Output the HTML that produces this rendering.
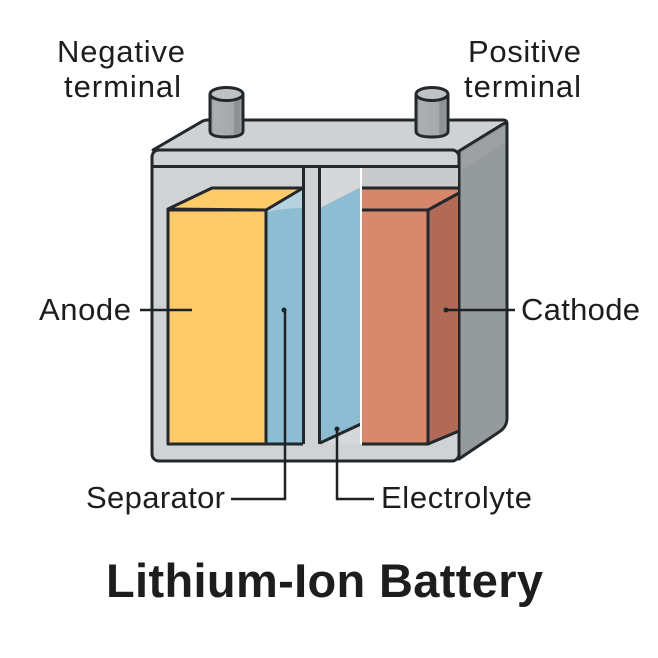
<!DOCTYPE html>
<html><head><meta charset="utf-8"><style>html,body{margin:0;padding:0;background:#fff}svg{display:block}text{font-family:"Liberation Sans",sans-serif;fill:#1b1d1f}</style></head>
<body>
<svg width="658" height="658" viewBox="0 0 658 658" xmlns="http://www.w3.org/2000/svg">
<defs>
<linearGradient id="p" x1="0" x2="1" y1="0" y2="0">
<stop offset="0" stop-color="#8f9193"/><stop offset=".12" stop-color="#acaeb0"/><stop offset=".72" stop-color="#a6a8aa"/><stop offset=".74" stop-color="#8d8f91"/><stop offset=".9" stop-color="#909294"/><stop offset="1" stop-color="#bcbdbf"/>
</linearGradient>
</defs>
<rect width="658" height="658" fill="#fff"/>
<g stroke="#22282b" stroke-width="3" stroke-linejoin="round">
<path d="M153 150 L201 122 Q204 120 208 120 L503 120 Q507 120 507 124 L459 152 Z" fill="#d0d1d3"/>
<path d="M459 151 L503 124 Q507 122 507 126 L507 418 Q507 427 499 432 L459 459 Z" fill="#959a9c"/>
<rect x="152" y="150" width="307" height="311" rx="7" fill="#d1d2d4"/>
<path d="M152 166.500 H459" fill="none"/>
</g>
<path d="M461 153 L505 127 V143 L461 170 Z" fill="#a3a6a8" opacity=".6"/>
<rect x="320" y="168" width="41" height="42" fill="#d6d7d8"/>
<path d="M320 208 L361 187 V424 L320 444 Z" fill="#8cbdd3"/>
<path d="M320 444 L361 424 V444 Z" fill="#d6d7d8"/>
<path d="M267 210 L303 190 V444 H267 Z" fill="#8cbdd3"/>
<path d="M267 210 L303 190 V208 Q285 208 267 212 Z" fill="#b5d2de"/>
<rect x="362" y="168" width="96" height="20" fill="#c9cacc"/>
<g stroke="#22282b" stroke-width="3" stroke-linejoin="round">
<path d="M303.500 167 V444 M319.500 167 V444 M320 443 L361 424" fill="none"/>
<path d="M168 209 L212 188 H303 L266 210 Z" fill="#fdcb69"/>
<rect x="168" y="210" width="98" height="234" fill="#fdca6a"/>
<path d="M168 444 H303" fill="none"/>
</g>
<path d="M362 189 H458 V193 L428 210 H362 Z" fill="#d6866b"/>
<rect x="362" y="210" width="66" height="234" fill="#d8886d"/>
<path d="M428 210 L458 193 V430 L428 444 Z" fill="#b06a55"/>
<g stroke="#22282b" stroke-width="3" stroke-linejoin="round" fill="none">
<path d="M362 188 H458"/>
<path d="M362 210 H428 V444 H362"/>
<path d="M428 210 L459 193"/>
<path d="M428 444 L459 431"/>
</g>
<path d="M361 168 V444" stroke="#fff" stroke-width="2" fill="none"/>
<g stroke="#22282b" stroke-width="3">
<path d="M210 95 V131 Q210 137 226.500 137 Q243 137 243 131 V95 Z" fill="url(#p)"/>
<ellipse cx="226.500" cy="94" rx="16.500" ry="6.500" fill="#c0c1c3"/>
<path d="M416 95 V131 Q416 137 432 137 Q448 137 448 131 V95 Z" fill="url(#p)"/>
<ellipse cx="432" cy="94" rx="16" ry="6.500" fill="#c0c1c3"/>
</g>
<g stroke="#1e2224" stroke-width="2.500" fill="none">
<path d="M140 310 H192"/>
<path d="M446 310 H515"/>
<path d="M285 310 V499 H231"/>
<path d="M337 429 V499 H374"/>
</g>
<circle cx="284" cy="310" r="2.500" fill="#1e2224"/>
<circle cx="337" cy="429" r="2.500" fill="#1e2224"/>
<circle cx="446" cy="310" r="2.500" fill="#1e2224"/>
<g font-size="31">
<text x="57" y="62" textLength="128" lengthAdjust="spacing">Negative</text>
<text x="64" y="97" textLength="117" lengthAdjust="spacing">terminal</text>
<text x="468" y="62" textLength="113" lengthAdjust="spacing">Positive</text>
<text x="464" y="97" textLength="117" lengthAdjust="spacing">terminal</text>
<text x="39" y="320" textLength="92" lengthAdjust="spacing">Anode</text>
<text x="521" y="320" textLength="119" lengthAdjust="spacing">Cathode</text>
<text x="86" y="508" textLength="139" lengthAdjust="spacing">Separator</text>
<text x="381" y="508" textLength="151" lengthAdjust="spacing">Electrolyte</text>
</g>
<text x="106" y="597" font-size="47" font-weight="700" textLength="437" lengthAdjust="spacing">Lithium-Ion Battery</text>
</svg>
</body></html>
